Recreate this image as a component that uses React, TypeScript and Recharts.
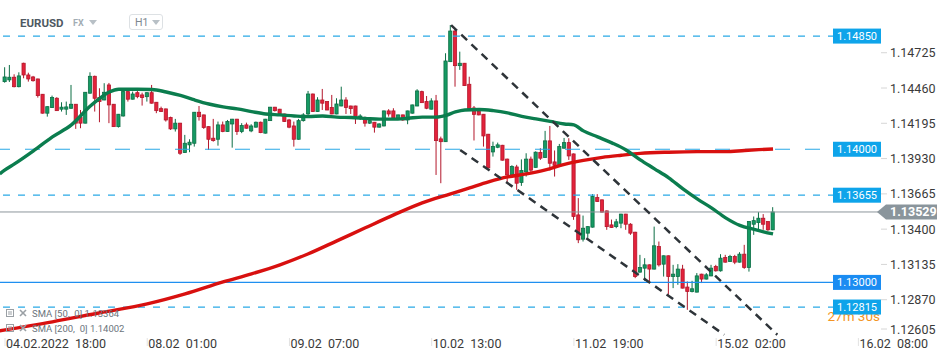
import { ComposedChart, Bar, Line, XAxis, YAxis, ReferenceLine } from 'recharts'

// hourly candles, index 0 = 04.02.2022 18:00
const OPEN = [
  1.14508, 1.14521, 1.14541, 1.14470, 1.14646, 1.14558, 1.14543, 1.14528, 1.14413, 1.14271,
  1.14313, 1.14383, 1.14301, 1.14301, 1.14308, 1.14338, 1.14238, 1.14196, 1.14421, 1.14548,
  1.14388, 1.14370, 1.14483, 1.14338, 1.14170, 1.14250, 1.14433, 1.14376, 1.14425, 1.14408,
  1.14395, 1.14425, 1.14353, 1.14305, 1.14303, 1.14238, 1.14153, 1.14196, 1.13975, 1.14033,
  1.14045, 1.14278, 1.14258, 1.14170, 1.14083, 1.14075, 1.14183, 1.14133, 1.14190, 1.14226,
  1.14133, 1.14183, 1.14138, 1.14166, 1.14203, 1.14121, 1.14215, 1.14316, 1.14301, 1.14265,
  1.14220, 1.14175, 1.14075, 1.14215, 1.14265, 1.14415, 1.14283, 1.14370, 1.14358, 1.14313,
  1.14265, 1.14325, 1.14370, 1.14325, 1.14325, 1.14241, 1.14228, 1.14196, 1.14203, 1.14166,
  1.14175, 1.14288, 1.14288, 1.14233, 1.14258, 1.14220, 1.14271, 1.14325, 1.14433, 1.14358,
  1.14301, 1.14363, 1.14078, 1.14057, 1.14658, 1.14888, 1.14628, 1.14646, 1.14488, 1.14310,
  1.14283, 1.14263, 1.14113, 1.13980, 1.14015, 1.14030, 1.13926, 1.13807, 1.13867, 1.13751,
  1.13830, 1.13926, 1.13864, 1.13976, 1.13939, 1.14063, 1.13905, 1.13873, 1.14008, 1.14050,
  1.13965, 1.13507, 1.13325, 1.13370, 1.13415, 1.13637, 1.13620, 1.13537, 1.13432, 1.13419,
  1.13445, 1.13513, 1.13437, 1.13377, 1.13077, 1.13107, 1.13132, 1.13100, 1.13269, 1.13137,
  1.13200, 1.13044, 1.13044, 1.13100, 1.12965, 1.12932, 1.12927, 1.13062, 1.13025, 1.13049,
  1.13119, 1.13087, 1.13187, 1.13157, 1.13194, 1.13152, 1.13212, 1.13112, 1.13437, 1.13449,
  1.13482, 1.13457, 1.13395,
]
const HIGH = [
  1.14616, 1.14633, 1.14563, 1.14578, 1.14650, 1.14575, 1.14551, 1.14530, 1.14415, 1.14322,
  1.14403, 1.14391, 1.14353, 1.14358, 1.14483, 1.14340, 1.14295, 1.14430, 1.14578, 1.14553,
  1.14458, 1.14496, 1.14498, 1.14340, 1.14265, 1.14446, 1.14435, 1.14433, 1.14446, 1.14425,
  1.14427, 1.14483, 1.14355, 1.14320, 1.14305, 1.14245, 1.14228, 1.14198, 1.14108, 1.14075,
  1.14280, 1.14325, 1.14260, 1.14172, 1.14228, 1.14208, 1.14208, 1.14220, 1.14228, 1.14228,
  1.14196, 1.14200, 1.14188, 1.14208, 1.14208, 1.14228, 1.14318, 1.14318, 1.14303, 1.14267,
  1.14228, 1.14208, 1.14228, 1.14271, 1.14438, 1.14418, 1.14391, 1.14453, 1.14360, 1.14408,
  1.14383, 1.14470, 1.14391, 1.14327, 1.14327, 1.14263, 1.14245, 1.14220, 1.14205, 1.14195,
  1.14290, 1.14301, 1.14308, 1.14260, 1.14260, 1.14290, 1.14335, 1.14451, 1.14440, 1.14400,
  1.14383, 1.14408, 1.14095, 1.14721, 1.14933, 1.14909, 1.14733, 1.14648, 1.14545, 1.14325,
  1.14285, 1.14265, 1.14115, 1.14057, 1.14050, 1.14033, 1.13930, 1.13880, 1.13883, 1.13924,
  1.13970, 1.13945, 1.13984, 1.14008, 1.14138, 1.14175, 1.13991, 1.14040, 1.14085, 1.14083,
  1.13968, 1.13633, 1.13502, 1.13422, 1.13663, 1.13663, 1.13622, 1.13540, 1.13472, 1.13477,
  1.13515, 1.13515, 1.13445, 1.13380, 1.13207, 1.13182, 1.13135, 1.13419, 1.13307, 1.13202,
  1.13202, 1.13132, 1.13137, 1.13132, 1.13007, 1.13012, 1.13070, 1.13065, 1.13070, 1.13132,
  1.13132, 1.13212, 1.13207, 1.13207, 1.13207, 1.13227, 1.13282, 1.13460, 1.13495, 1.13528,
  1.13513, 1.13460, 1.13565,
]
const LOW = [
  1.14500, 1.14505, 1.14465, 1.14465, 1.14533, 1.14508, 1.14508, 1.14388, 1.14268, 1.14245,
  1.14310, 1.14288, 1.14283, 1.14258, 1.14303, 1.14153, 1.14158, 1.14194, 1.14418, 1.14283,
  1.14203, 1.14368, 1.14196, 1.14168, 1.14163, 1.14245, 1.14358, 1.14374, 1.14383, 1.14328,
  1.14358, 1.14343, 1.14271, 1.14281, 1.14208, 1.14145, 1.14133, 1.13958, 1.13972, 1.13978,
  1.14020, 1.14215, 1.14153, 1.13995, 1.14057, 1.14027, 1.14128, 1.14130, 1.14012, 1.14108,
  1.14121, 1.14155, 1.14128, 1.14163, 1.14121, 1.14118, 1.14213, 1.14283, 1.14258, 1.14205,
  1.14158, 1.14020, 1.14072, 1.14208, 1.14235, 1.14280, 1.14280, 1.14295, 1.14293, 1.14263,
  1.14263, 1.14323, 1.14265, 1.14265, 1.14190, 1.14220, 1.14170, 1.14190, 1.14125, 1.14163,
  1.14172, 1.14245, 1.14220, 1.14230, 1.14213, 1.14188, 1.14268, 1.14323, 1.14348, 1.14301,
  1.14299, 1.13807, 1.13745, 1.14055, 1.14655, 1.14470, 1.14596, 1.14476, 1.14299, 1.14066,
  1.14255, 1.14020, 1.13858, 1.13945, 1.14008, 1.13915, 1.13745, 1.13795, 1.13695, 1.13725,
  1.13795, 1.13830, 1.13862, 1.13920, 1.13935, 1.13841, 1.13795, 1.13870, 1.14005, 1.13920,
  1.13470, 1.13295, 1.13307, 1.13335, 1.13412, 1.13604, 1.13525, 1.13395, 1.13410, 1.13407,
  1.13407, 1.13395, 1.13357, 1.13032, 1.13074, 1.13012, 1.13007, 1.13097, 1.13119, 1.13044,
  1.12907, 1.12957, 1.12982, 1.12955, 1.12794, 1.12925, 1.12925, 1.12995, 1.13022, 1.13046,
  1.13081, 1.13081, 1.13149, 1.13154, 1.13137, 1.13149, 1.13102, 1.13081, 1.13357, 1.13395,
  1.13395, 1.13387, 1.13392,
]
const CLOSE = [
  1.14543, 1.14541, 1.14470, 1.14551, 1.14558, 1.14528, 1.14515, 1.14403, 1.14271, 1.14320,
  1.14388, 1.14290, 1.14316, 1.14318, 1.14338, 1.14196, 1.14196, 1.14428, 1.14548, 1.14383,
  1.14358, 1.14428, 1.14333, 1.14170, 1.14263, 1.14433, 1.14376, 1.14415, 1.14395, 1.14388,
  1.14425, 1.14346, 1.14290, 1.14283, 1.14220, 1.14153, 1.14196, 1.13970, 1.14045, 1.14053,
  1.14278, 1.14245, 1.14163, 1.14075, 1.14065, 1.14183, 1.14133, 1.14208, 1.14226, 1.14133,
  1.14178, 1.14158, 1.14175, 1.14203, 1.14125, 1.14226, 1.14316, 1.14290, 1.14265, 1.14208,
  1.14166, 1.14075, 1.14215, 1.14258, 1.14415, 1.14283, 1.14370, 1.14346, 1.14295, 1.14265,
  1.14340, 1.14370, 1.14313, 1.14305, 1.14245, 1.14250, 1.14196, 1.14215, 1.14166, 1.14190,
  1.14288, 1.14265, 1.14233, 1.14258, 1.14220, 1.14288, 1.14333, 1.14438, 1.14350, 1.14308,
  1.14363, 1.14065, 1.14057, 1.14663, 1.14888, 1.14628, 1.14646, 1.14478, 1.14301, 1.14262,
  1.14258, 1.14100, 1.13860, 1.14021, 1.14033, 1.13918, 1.13807, 1.13870, 1.13745, 1.13840,
  1.13926, 1.13843, 1.13978, 1.13933, 1.14063, 1.13895, 1.13879, 1.14020, 1.14050, 1.13950,
  1.13495, 1.13320, 1.13407, 1.13419, 1.13645, 1.13607, 1.13528, 1.13419, 1.13413, 1.13455,
  1.13513, 1.13437, 1.13370, 1.13044, 1.13112, 1.13132, 1.13100, 1.13275, 1.13132, 1.13200,
  1.13044, 1.13062, 1.13100, 1.12957, 1.12932, 1.12952, 1.13049, 1.13025, 1.13057, 1.13107,
  1.13087, 1.13182, 1.13152, 1.13194, 1.13152, 1.13212, 1.13112, 1.13457, 1.13464, 1.13482,
  1.13437, 1.13395, 1.13529,
]

// moving averages: [candle index, value]
const SMA50 = [
  [-1.1, 1.13815], [0, 1.13845], [2, 1.1389], [6, 1.13988], [10, 1.14093], [14, 1.14183], [18, 1.14325],
  [20, 1.14382], [22, 1.1443], [24, 1.14451], [28, 1.14451], [31, 1.14449], [34, 1.1443],
  [37, 1.14404], [40, 1.1437], [43, 1.1434], [46, 1.14318], [49, 1.14303], [52, 1.14283],
  [55, 1.14265], [58, 1.14258], [61, 1.1425], [64, 1.14245], [67, 1.1425], [70, 1.14241],
  [73, 1.14238], [76, 1.14232], [79, 1.14226], [82, 1.14226], [85, 1.14233], [88, 1.14241],
  [91, 1.14241], [93, 1.14254], [95, 1.1428], [97, 1.14295], [100, 1.14299], [103, 1.1429],
  [106, 1.14273], [109, 1.14247], [112, 1.14228], [115, 1.14209], [118, 1.1419], [120, 1.14183],
  [122, 1.14138], [125, 1.14093], [128, 1.14048], [131, 1.13995], [134, 1.1392], [137, 1.13853],
  [140, 1.13785], [143, 1.13702], [146, 1.13627], [149, 1.1356], [152, 1.13485], [155, 1.13428],
  [158, 1.13398], [160, 1.1338], [162, 1.13364],
]
const SMA200 = [
  [-1.1, 1.12637], [10, 1.12704], [20, 1.12772], [30, 1.12839], [38, 1.12914], [46, 1.13004],
  [52, 1.13064], [58, 1.13132], [64, 1.13215], [70, 1.13312], [76, 1.1341], [82, 1.13507],
  [88, 1.13597], [94, 1.13665], [98, 1.1371], [102, 1.13755], [106, 1.13792], [110, 1.13815],
  [114, 1.13845], [118, 1.13886], [122, 1.13916], [126, 1.13939], [130, 1.13955], [134, 1.13969],
  [140, 1.13978], [146, 1.13982], [152, 1.13982], [156, 1.13991], [159, 1.13997], [162, 1.14002],
]

const TIME_TICKS = [0, 30, 60, 90, 120, 150, 180]
const TIME_LABELS = ['04.02.2022  18:00', '08.02  01:00', '09.02  07:00', '10.02  13:00', '11.02  19:00', '15.02  02:00', '16.02  08:00']
const PRICE_TICKS = [1.14725, 1.1446, 1.14195, 1.1393, 1.13665, 1.134, 1.13135, 1.1287, 1.12605]

const DASHED_LEVELS = [1.1485, 1.13655, 1.12815]
const WIDE_DASH_LEVEL = 1.14
const SOLID_LEVEL = 1.13
const LAST_PRICE = 1.13529

// drawn channel, [index, price] end points
const CHANNEL_UPPER = [[94.1, 1.14933], [162.9, 1.12607]]
const CHANNEL_LOWER = [[96, 1.13995], [151.7, 1.12607]]

const candles = OPEN.map((o, i) => ({ i, open: o, high: HIGH[i], low: LOW[i], close: CLOSE[i] }))
const sma50Data = SMA50.map(([i, v]) => ({ i, v }))
const sma200Data = SMA200.map(([i, v]) => ({ i, v }))

const FONT = 'Roboto, "Noto Sans", sans-serif'
const LEVEL_BLUE = '#2aa9e6'

function Candle(props: any) {
  const { x, width, payload } = props
  let { y, height } = props
  if (!payload || y == null || height == null) return null
  if (height < 0) {
    y += height
    height = -height
  }
  const { open, close, high, low } = payload
  const cx = x + width / 2
  const span = high - low || 1e-9
  const py = (v: number) => y + ((high - v) / span) * height
  const up = close >= open
  const top = py(Math.max(open, close))
  const bot = py(Math.min(open, close))
  const fill = up ? '#159a63' : '#e3223b'
  const stroke = up ? '#0c6e45' : '#b3172b'
  return (
    <g>
      <line x1={cx} x2={cx} y1={y} y2={y + height} stroke={stroke} strokeWidth={1} />
      <rect x={cx - 1.6} y={top} width={3.2} height={Math.max(bot - top, 1)} fill={fill} stroke={stroke} strokeWidth={0.8} />
    </g>
  )
}

function LevelTag({ viewBox, text, color, extra }: any) {
  if (!viewBox) return null
  const right = viewBox.x + viewBox.width
  const y = viewBox.y
  return (
    <g>
      {extra}
      <rect x={right - 47} y={y - 7.5} width={48} height={15} fill={color} />
      <text x={right - 23} y={y + 4} textAnchor="middle" fill="#fff" fontSize={11} fontFamily={FONT}>
        {text}
      </text>
    </g>
  )
}

function LastPriceTag({ viewBox }: any) {
  if (!viewBox) return null
  const r = viewBox.x + viewBox.width
  const y = viewBox.y
  return (
    <g>
      <polygon
        points={`${r - 3},${y} ${r + 6},${y - 7.5} ${r + 57},${y - 7.5} ${r + 57},${y + 7.5} ${r + 6},${y + 7.5}`}
        fill="#8a959c"
      />
      <text x={r + 10} y={y + 4.5} fill="#fff" fontSize={12.5} fontWeight="bold" fontFamily={FONT}>
        {LAST_PRICE.toFixed(5)}
      </text>
    </g>
  )
}

function PriceTick({ x, y, payload }: any) {
  const ty = payload.value < 1.1261 ? y - 6 : y
  return (
    <g>
      <line x1={x + 1} x2={x + 7} y1={ty} y2={ty} stroke="#d6d6d6" />
      <text x={x + 10} y={ty + 4.5} fill="#3a3a3a" fontSize={12.5} fontFamily={FONT}>
        {payload.value.toFixed(5)}
      </text>
    </g>
  )
}

function TimeTick({ x, y, payload }: any) {
  const k = TIME_TICKS.indexOf(payload.value)
  return (
    <g>
      <line x1={x} x2={x} y1={y + 3} y2={y + 11} stroke="#e2e2e2" />
      <text x={x + 1} y={y + 13} fill="#3a3a3a" fontSize={12.5} fontFamily={FONT} style={{ whiteSpace: 'pre' }}>
        {TIME_LABELS[k]}
      </text>
    </g>
  )
}

const Tri = ({ left, top }: { left: number; top: number }) => (
  <svg style={{ position: 'absolute', left, top }} width={8} height={5}>
    <polygon points="0,0 8,0 4,5" fill="#b8c0c6" />
  </svg>
)

const LegendIcons = ({ top }: { top: number }) => (
  <svg style={{ position: 'absolute', left: 6, top }} width={22} height={9}>
    <rect x={0.5} y={0.5} width={7} height={7} fill="none" stroke="#9aa0a5" />
    <line x1={2} x2={6} y1={3} y2={3} stroke="#9aa0a5" />
    <line x1={2} x2={6} y1={5} y2={5} stroke="#9aa0a5" />
    <line x1={14} x2={20} y1={1} y2={7} stroke="#9aa0a5" strokeWidth={1.6} />
    <line x1={20} x2={14} y1={1} y2={7} stroke="#9aa0a5" strokeWidth={1.6} />
  </svg>
)

export default function App() {
  return (
    <div style={{ position: 'absolute', left: 0, top: 0, width: 950, height: 361, background: '#fff', fontFamily: FONT }}>
      <ComposedChart width={950} height={361} data={candles} margin={{ top: 0, right: 0, bottom: 0, left: 0 }}>
        <XAxis
          dataKey="i"
          type="number"
          domain={[-1.055, 184.56]}
          allowDataOverflow
          ticks={TIME_TICKS}
          interval={0}
          height={26}
          axisLine={false}
          tickLine={false}
          tickSize={0}
          tickMargin={0}
          tick={<TimeTick />}
        />
        <YAxis
          orientation="right"
          width={70}
          domain={[1.12605, 1.15121]}
          allowDataOverflow
          ticks={PRICE_TICKS}
          interval={0}
          axisLine={false}
          tickLine={false}
          tickSize={0}
          tickMargin={0}
          tick={<PriceTick />}
        />

        <ReferenceLine
          y={WIDE_DASH_LEVEL}
          stroke={LEVEL_BLUE}
          strokeWidth={1.2}
          strokeDasharray="15 15"
          label={(p: any) => <LevelTag viewBox={p.viewBox} text={WIDE_DASH_LEVEL.toFixed(5)} color="#0ea4ea" />}
        />
        {DASHED_LEVELS.map((lv) => (
          <ReferenceLine
            key={lv}
            y={lv}
            stroke={LEVEL_BLUE}
            strokeWidth={1.2}
            strokeDasharray="7 8"
            label={(p: any) => (
              <LevelTag
                viewBox={p.viewBox}
                text={lv.toFixed(5)}
                color="#0ea4ea"
                extra={
                  lv === 1.12815 ? (
                    <text x={p.viewBox.x + p.viewBox.width} y={p.viewBox.y + 14} textAnchor="end" fill="#f39423" fontSize={13.5} fontFamily={FONT}>
                      27m 30s
                    </text>
                  ) : null
                }
              />
            )}
          />
        ))}
        <ReferenceLine
          y={SOLID_LEVEL}
          stroke="#1f8ff0"
          strokeWidth={1.3}
          label={(p: any) => <LevelTag viewBox={p.viewBox} text={SOLID_LEVEL.toFixed(5)} color="#1a8cf2" />}
        />
        <ReferenceLine y={LAST_PRICE} stroke="#8c959b" strokeWidth={1} label={(p: any) => <LastPriceTag viewBox={p.viewBox} />} />

        <Bar dataKey={(d: any) => [d.low, d.high]} barSize={4} isAnimationActive={false} shape={(p: any) => <Candle {...p} />} />

        <Line data={sma200Data} dataKey="v" type="monotone" stroke="#d8100f" strokeWidth={3.4} dot={false} isAnimationActive={false} />
        <Line data={sma50Data} dataKey="v" type="monotone" stroke="#0b7d4e" strokeWidth={3.4} dot={false} isAnimationActive={false} />

        <ReferenceLine
          segment={[{ x: CHANNEL_UPPER[0][0], y: CHANNEL_UPPER[0][1] }, { x: CHANNEL_UPPER[1][0], y: CHANNEL_UPPER[1][1] }]}
          stroke="#2e3439"
          strokeWidth={2.5}
          strokeDasharray="8 6"
        />
        <ReferenceLine
          segment={[{ x: CHANNEL_LOWER[0][0], y: CHANNEL_LOWER[0][1] }, { x: CHANNEL_LOWER[1][0], y: CHANNEL_LOWER[1][1] }]}
          stroke="#2e3439"
          strokeWidth={2.5}
          strokeDasharray="8 6"
        />
      </ComposedChart>

      {/* header */}
      <div style={{ position: 'absolute', left: 20, top: 16, fontSize: 11.5, fontWeight: 700, color: '#4e5862' }}>EURUSD</div>
      <div style={{ position: 'absolute', left: 73, top: 18, fontSize: 9, fontWeight: 700, color: '#a3adb4' }}>FX</div>
      <Tri left={89} top={20} />
      <div
        style={{
          position: 'absolute',
          left: 129,
          top: 14,
          width: 34,
          height: 16,
          border: '1px solid #dde1e4',
          borderRadius: 3,
          boxSizing: 'border-box',
        }}
      />
      <div style={{ position: 'absolute', left: 135, top: 16, fontSize: 10.5, color: '#7d8790' }}>H1</div>
      <Tri left={152} top={20} />

      {/* indicator legend */}
      <LegendIcons top={309} />
      <div style={{ position: 'absolute', left: 32, top: 308, fontSize: 9.5, color: '#6b747b', whiteSpace: 'pre' }}>SMA [50,  0] 1.13364</div>
      <LegendIcons top={324} />
      <div style={{ position: 'absolute', left: 32, top: 323, fontSize: 9.5, color: '#6b747b', whiteSpace: 'pre' }}>SMA [200,  0] 1.14002</div>
    </div>
  )
}
